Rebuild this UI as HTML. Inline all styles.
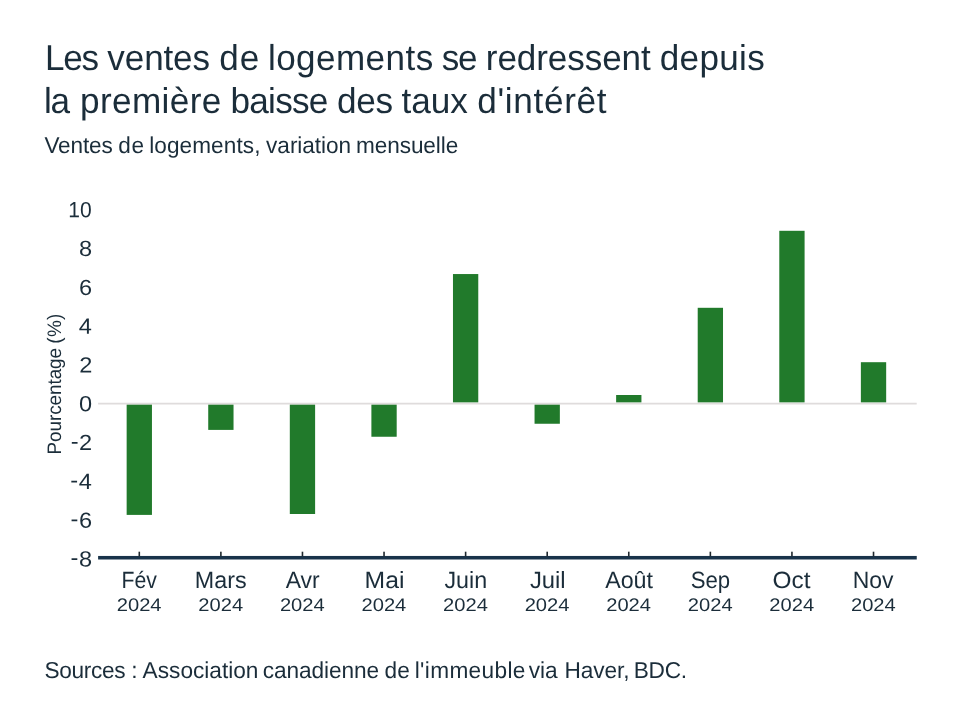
<!DOCTYPE html>
<html lang="fr">
<head>
<meta charset="utf-8">
<title>Les ventes de logements se redressent depuis la première baisse des taux d'intérêt</title>
<style>
html,body{margin:0;padding:0;background:#fff;}
body{width:960px;height:720px;overflow:hidden;}
svg{display:block;}
text{font-family:"Liberation Sans",sans-serif;fill:#1b2d3a;white-space:pre;text-rendering:geometricPrecision;}
</style>
</head>
<body>
<svg width="960" height="720" viewBox="0 0 960 720">
<rect x="0" y="0" width="960" height="720" fill="#fff"/>
<g fill="#217a2b">
<rect x="126.65" y="404.40" width="25.30" height="110.50"/>
<rect x="208.23" y="404.40" width="25.30" height="25.50"/>
<rect x="289.81" y="404.40" width="25.30" height="109.60"/>
<rect x="371.39" y="404.40" width="25.30" height="32.35"/>
<rect x="452.97" y="274.05" width="25.30" height="128.40"/>
<rect x="534.55" y="404.40" width="25.30" height="19.35"/>
<rect x="616.13" y="395.00" width="25.30" height="7.45"/>
<rect x="697.71" y="307.80" width="25.30" height="94.65"/>
<rect x="779.29" y="230.80" width="25.30" height="171.65"/>
<rect x="860.87" y="362.20" width="25.30" height="40.25"/>
</g>
<rect x="98.1" y="402.75" width="818.6" height="1.75" fill="#dfdcdc"/>
<rect x="98.1" y="555.95" width="818.65" height="3.55" fill="#19334a"/>
<g fill="#1e272d">
<rect x="138.50" y="551.7" width="1.6" height="4.6"/>
<rect x="220.08" y="551.7" width="1.6" height="4.6"/>
<rect x="301.66" y="551.7" width="1.6" height="4.6"/>
<rect x="383.24" y="551.7" width="1.6" height="4.6"/>
<rect x="464.82" y="551.7" width="1.6" height="4.6"/>
<rect x="546.40" y="551.7" width="1.6" height="4.6"/>
<rect x="627.98" y="551.7" width="1.6" height="4.6"/>
<rect x="709.56" y="551.7" width="1.6" height="4.6"/>
<rect x="791.14" y="551.7" width="1.6" height="4.6"/>
<rect x="872.72" y="551.7" width="1.6" height="4.6"/>
</g>
<text transform="translate(0 70.00) scale(0.9741 1)" font-size="36"><tspan x="46.11" letter-spacing="-1.200">Les</tspan> <tspan x="110.23" letter-spacing="-0.137">ventes</tspan> <tspan x="224.96" letter-spacing="1.137">de</tspan> <tspan x="275.05" letter-spacing="0.446">logements</tspan> <tspan x="453.46" letter-spacing="-1.200">se</tspan> <tspan x="498.69" letter-spacing="-0.076">redressent</tspan> <tspan x="677.31" letter-spacing="0.323">depuis</tspan></text>
<text transform="translate(0 113.00) scale(0.9770 1)" font-size="36"><tspan x="44.98" letter-spacing="-1.200">la</tspan> <tspan x="81.97" letter-spacing="0.352">première</tspan> <tspan x="235.86" letter-spacing="-0.751">baisse</tspan> <tspan x="344.98" letter-spacing="-0.296">des</tspan> <tspan x="410.87" letter-spacing="0.007">taux</tspan> <tspan x="488.53" letter-spacing="0.673">d'intérêt</tspan></text>
<text transform="translate(0 153.00) scale(0.9820 1)" font-size="23"><tspan x="45.29" letter-spacing="-0.169">Ventes</tspan> <tspan x="120.31" letter-spacing="0.767">de</tspan> <tspan x="151.86" letter-spacing="0.097">logements,</tspan> <tspan x="271.00" letter-spacing="-0.043">variation</tspan> <tspan x="362.54" letter-spacing="-0.091">mensuelle</tspan></text>
<text transform="translate(61.00 452.90) rotate(-90) scale(0.9699 1)" font-size="19.5"><tspan x="-1.62" letter-spacing="-0.074">Pourcentage</tspan> <tspan x="112.58" letter-spacing="0.369">(%)</tspan></text>
<text transform="translate(0 678.00) scale(0.9854 1)" font-size="23"><tspan x="45.15" letter-spacing="-0.342">Sources</tspan> <tspan x="133.17" letter-spacing="0.000">:</tspan> <tspan x="144.74" letter-spacing="-0.006">Association</tspan> <tspan x="266.65" letter-spacing="-0.104">canadienne</tspan> <tspan x="390.20" letter-spacing="0.094">de</tspan> <tspan x="420.90" letter-spacing="0.347">l'immeuble</tspan> <tspan x="536.70" letter-spacing="-0.164">via</tspan> <tspan x="572.75" letter-spacing="-0.069">Haver,</tspan> <tspan x="643.02" letter-spacing="-0.222">BDC.</tspan></text>
<text transform="translate(121.41 587.80) scale(0.9034 1)" font-size="23.5">Fév</text>
<text transform="translate(116.73 611.10) scale(1.1077 1)" font-size="18.2">2024</text>
<text transform="translate(194.84 587.80) scale(0.9919 1)" font-size="23.5">Mars</text>
<text transform="translate(198.31 611.10) scale(1.1077 1)" font-size="18.2">2024</text>
<text transform="translate(285.68 587.80) scale(0.9752 1)" font-size="23.5">Avr</text>
<text transform="translate(279.89 611.10) scale(1.1077 1)" font-size="18.2">2024</text>
<text transform="translate(364.53 587.80) scale(1.0531 1)" font-size="23.5">Mai</text>
<text transform="translate(361.47 611.10) scale(1.1077 1)" font-size="18.2">2024</text>
<text transform="translate(444.43 587.80) scale(0.9915 1)" font-size="23.5">Juin</text>
<text transform="translate(443.05 611.10) scale(1.1077 1)" font-size="18.2">2024</text>
<text transform="translate(529.92 587.80) scale(1.0135 1)" font-size="23.5">Juil</text>
<text transform="translate(524.63 611.10) scale(1.1077 1)" font-size="18.2">2024</text>
<text transform="translate(605.18 587.80) scale(0.9896 1)" font-size="23.5">Août</text>
<text transform="translate(606.21 611.10) scale(1.1077 1)" font-size="18.2">2024</text>
<text transform="translate(690.64 587.80) scale(0.9434 1)" font-size="23.5">Sep</text>
<text transform="translate(687.79 611.10) scale(1.1077 1)" font-size="18.2">2024</text>
<text transform="translate(772.53 587.80) scale(1.0383 1)" font-size="23.5">Oct</text>
<text transform="translate(769.37 611.10) scale(1.1077 1)" font-size="18.2">2024</text>
<text transform="translate(852.67 587.80) scale(0.9761 1)" font-size="23.5">Nov</text>
<text transform="translate(850.95 611.10) scale(1.1077 1)" font-size="18.2">2024</text>
<text transform="translate(68.35 217.30) rotate(0.05) scale(0.9568 1)" font-size="22">10</text>
<text transform="translate(79.06 256.10) rotate(0.05) scale(1.0700 1)" font-size="22">8</text>
<text transform="translate(79.06 294.90) rotate(0.05) scale(1.0700 1)" font-size="22">6</text>
<text transform="translate(78.66 333.70) rotate(0.05) scale(1.0700 1)" font-size="22">4</text>
<text transform="translate(79.20 372.50) rotate(0.05) scale(1.0700 1)" font-size="22">2</text>
<text transform="translate(78.93 411.30) rotate(0.05) scale(1.0700 1)" font-size="22">0</text>
<text transform="translate(70.64 450.10) rotate(0.05) scale(1.0700 1)" font-size="22"><tspan dy="-1.4">-</tspan><tspan dy="1.4" dx="0.6">2</tspan></text>
<text transform="translate(70.23 488.90) rotate(0.05) scale(1.0700 1)" font-size="22"><tspan dy="-1.4">-</tspan><tspan dy="1.4" dx="0.6">4</tspan></text>
<text transform="translate(70.50 527.70) rotate(0.05) scale(1.0700 1)" font-size="22"><tspan dy="-1.4">-</tspan><tspan dy="1.4" dx="0.6">6</tspan></text>
<text transform="translate(70.50 566.50) rotate(0.05) scale(1.0700 1)" font-size="22"><tspan dy="-1.4">-</tspan><tspan dy="1.4" dx="0.6">8</tspan></text>
</svg>
</body>
</html>
